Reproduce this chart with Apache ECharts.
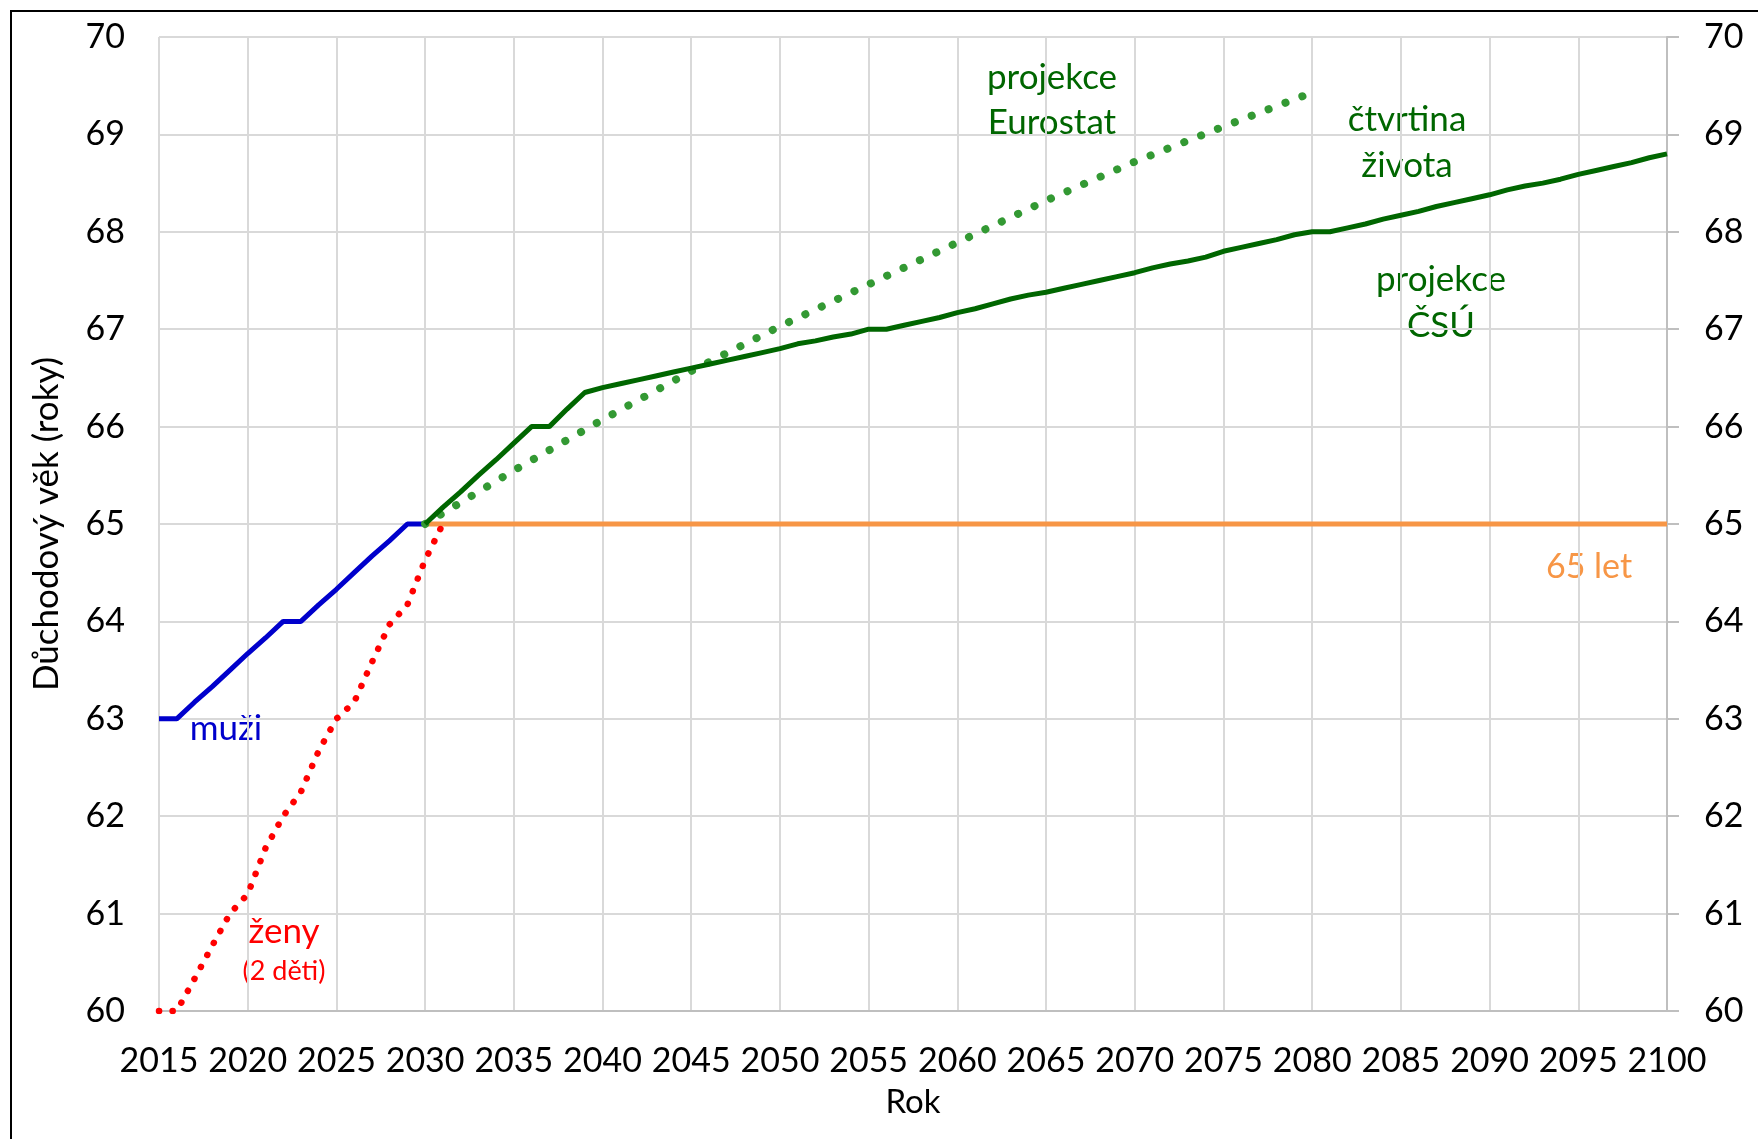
<!DOCTYPE html>
<html>
<head>
<meta charset="utf-8">
<script src="https://cdn.jsdelivr.net/npm/echarts@6/dist/echarts.min.js"></script>
<style>
  html, body { margin: 0; padding: 0; background: #fff; }
  #chart { width: 1758px; height: 1139px; }
</style>
</head>
<body>
<div id="chart"></div>
<script>
// muži
const menYears = [2015, 2016, 2017, 2018, 2019, 2020, 2021, 2022, 2023, 2024, 2025, 2026, 2027, 2028, 2029, 2030];
const menAge = [63, 63, 63.17, 63.33, 63.5, 63.67, 63.83, 64, 64, 64.17, 64.33, 64.5, 64.67, 64.83, 65, 65];

// ženy (2 děti)
const womenYears = [2015, 2016, 2017, 2018, 2019, 2020, 2021, 2022, 2023, 2024, 2025, 2026, 2027, 2028, 2029, 2030, 2031];
const womenAge = [60, 60, 60.33, 60.67, 61, 61.2, 61.67, 62, 62.25, 62.67, 63, 63.17, 63.58, 63.97, 64.17, 64.63, 65];

// projekce ČSÚ (čtvrtina života)
const csuYears = [2030, 2031, 2032, 2033, 2034, 2035, 2036, 2037, 2038, 2039, 2040, 2041, 2042, 2043, 2044, 2045,
  2046, 2047, 2048, 2049, 2050, 2051, 2052, 2053, 2054, 2055, 2056, 2057, 2058, 2059, 2060, 2061, 2062, 2063,
  2064, 2065, 2066, 2067, 2068, 2069, 2070, 2071, 2072, 2073, 2074, 2075, 2076, 2077, 2078, 2079, 2080, 2081,
  2082, 2083, 2084, 2085, 2086, 2087, 2088, 2089, 2090, 2091, 2092, 2093, 2094, 2095, 2096, 2097, 2098, 2099, 2100];
const csuAge = [65, 65.17, 65.33, 65.5, 65.66, 65.83, 66, 66, 66.18, 66.35, 66.4, 66.44, 66.48, 66.52, 66.56, 66.6,
  66.64, 66.68, 66.72, 66.76, 66.8, 66.85, 66.88, 66.92, 66.95, 67, 67, 67.04, 67.08, 67.12, 67.17, 67.21, 67.26, 67.31,
  67.35, 67.38, 67.42, 67.46, 67.5, 67.54, 67.58, 67.63, 67.67, 67.7, 67.74, 67.8, 67.84, 67.88, 67.92, 67.97, 68, 68,
  68.04, 68.08, 68.13, 68.17, 68.21, 68.26, 68.3, 68.34, 68.38, 68.43, 68.47, 68.5, 68.54, 68.59, 68.63, 68.67, 68.71, 68.76, 68.8];

// projekce Eurostat
const euroYears = [2030, 2035, 2040, 2045, 2050, 2055, 2060, 2065, 2070, 2075, 2080];
const euroAge = [65, 65.55, 66.07, 66.57, 67.03, 67.46, 67.89, 68.32, 68.72, 69.08, 69.43];

// 65 let
const flatYears = [2030, 2100];
const flatAge = [65, 65];

const pairs = (xs, ys) => xs.map((x, i) => [x, ys[i]]);

const chart = echarts.init(document.getElementById('chart'));
const font = 'Lato, "Open Sans", sans-serif';
const yAxisBase = {
  type: 'value',
  min: 60,
  max: 70,
  interval: 1,
  axisLabel: { color: '#000', fontSize: 34, fontFamily: font }
};

const note = (text, x, y, color, size) => ({
  type: 'text', x, y, silent: true,
  style: { text, fill: color, font: size + 'px ' + font, align: 'center', verticalAlign: 'middle' }
});

chart.setOption({
  animation: false,
  backgroundColor: '#fff',
  grid: { left: 159, right: 91, top: 37, bottom: 128 },
  xAxis: {
    type: 'value',
    min: 2015,
    max: 2100,
    interval: 5,
    name: 'Rok',
    nameLocation: 'middle',
    nameGap: 75,
    nameTextStyle: { color: '#000', fontSize: 33, fontFamily: font },
    axisLine: { show: true, lineStyle: { color: '#bfbfbf', width: 2 } },
    axisTick: { show: false },
    axisLabel: { color: '#000', fontSize: 34, fontFamily: font, margin: 33, formatter: v => String(v) },
    splitLine: { show: true, lineStyle: { color: '#d9d9d9', width: 2 } }
  },
  yAxis: [
    Object.assign({}, yAxisBase, {
      position: 'left',
      name: 'Důchodový věk (roky)',
      nameLocation: 'middle',
      nameGap: 95,
      nameTextStyle: { color: '#000', fontSize: 35, fontFamily: font },
      axisLine: { show: false },
      axisTick: { show: false },
      axisLabel: Object.assign({}, yAxisBase.axisLabel, { margin: 34 }),
      splitLine: { show: true, lineStyle: { color: '#d9d9d9', width: 2 } }
    }),
    Object.assign({}, yAxisBase, {
      position: 'right',
      axisLine: { show: true, lineStyle: { color: '#bfbfbf', width: 2 } },
      axisTick: { show: true, length: 12, lineStyle: { color: '#bfbfbf', width: 2 } },
      axisLabel: Object.assign({}, yAxisBase.axisLabel, { margin: 37 }),
      splitLine: { show: false }
    })
  ],
  series: [
    {
      name: '65 let', type: 'line', symbol: 'none',
      data: pairs(flatYears, flatAge),
      lineStyle: { color: '#f79646', width: 5 }
    },
    {
      name: 'muži', type: 'line', symbol: 'none',
      data: pairs(menYears, menAge),
      lineStyle: { color: '#0000cc', width: 5 }
    },
    {
      name: 'projekce Eurostat', type: 'line', symbol: 'none',
      data: pairs(euroYears, euroAge),
      lineStyle: { color: '#339933', width: 8, type: [0.1, 18], cap: 'round' }
    },
    {
      name: 'projekce ČSÚ', type: 'line', symbol: 'none',
      data: pairs(csuYears, csuAge),
      lineStyle: { color: '#006600', width: 5 }
    },
    {
      name: 'ženy', type: 'line', symbol: 'none',
      data: pairs(womenYears, womenAge),
      lineStyle: { color: '#ff0000', width: 6.5, type: [0.1, 13.5], cap: 'round' }
    }
  ],
  graphic: [
    { type: 'rect', silent: true, shape: { x: 11, y: 11, width: 1800, height: 1200 },
      style: { fill: 'none', stroke: '#000', lineWidth: 2 } },
    note('muži', 226, 729, '#0000cc', 35),
    note('ženy', 284, 932, '#ff0000', 35),
    note('(2 děti)', 284, 971, '#ff0000', 27),
    note('projekce', 1052, 78, '#006600', 35),
    note('Eurostat', 1052, 123, '#006600', 35),
    note('čtvrtina', 1407, 120, '#006600', 35),
    note('života', 1407, 166, '#006600', 35),
    note('projekce', 1441, 280, '#006600', 35),
    note('ČSÚ', 1441, 326, '#006600', 35),
    note('65 let', 1589, 567, '#f79646', 34)
  ]
});

window.addEventListener('resize', () => chart.resize());
</script>
</body>
</html>
